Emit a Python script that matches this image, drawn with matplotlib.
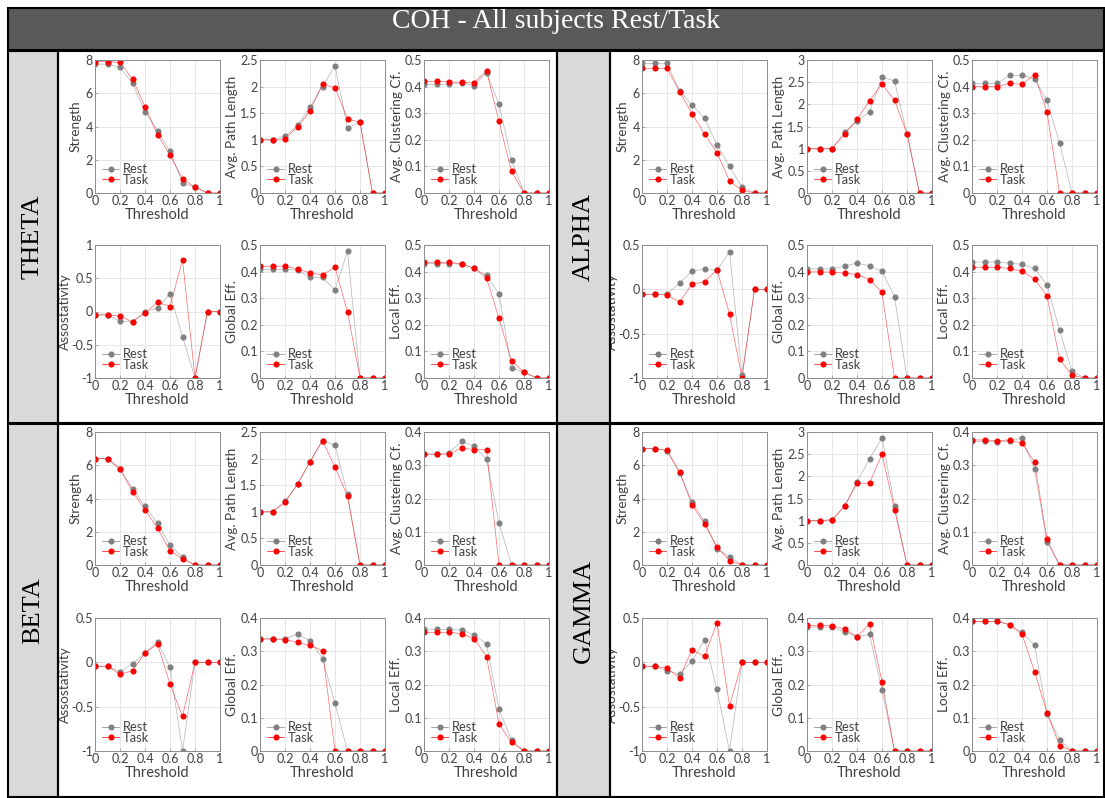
import numpy as np
import matplotlib
matplotlib.use("Agg")
import matplotlib.pyplot as plt
from matplotlib.patches import Rectangle
from matplotlib.ticker import FuncFormatter, MultipleLocator

plt.rcParams['font.family'] = ['Lato', 'DejaVu Sans']
plt.rcParams['axes.unicode_minus'] = False

threshold = [0, 0.1, 0.2, 0.3, 0.4, 0.5, 0.6, 0.7, 0.8, 0.9, 1.0]
metric_labels = ['Strength', 'Avg. Path Length', 'Avg. Clustering Cf.',
                 'Assostativity', 'Global Eff.', 'Local Eff.']
band_names = ['THETA', 'ALPHA', 'BETA', 'GAMMA']

# THETA
theta_strength_rest = [7.75, 7.75, 7.55, 6.6, 4.9, 3.75, 2.5, 0.6, 0.35, 0, 0]
theta_strength_task = [7.9, 7.9, 7.85, 6.85, 5.2, 3.5, 2.3, 0.85, 0.35, 0, 0]
theta_apl_rest = [1, 1, 1.07, 1.27, 1.62, 2.0, 2.39, 1.23, 1.33, 0, 0]
theta_apl_task = [1, 1, 1.02, 1.24, 1.54, 2.05, 1.98, 1.39, 1.33, 0, 0]
theta_clust_rest = [0.408, 0.408, 0.408, 0.415, 0.404, 0.453, 0.334, 0.125, 0, 0, 0]
theta_clust_task = [0.42, 0.42, 0.418, 0.416, 0.415, 0.459, 0.269, 0.081, 0, 0, 0]
theta_assort_rest = [-0.05, -0.05, -0.146, -0.156, 0.0, 0.05, 0.266, -0.377, -1.0, 0, 0]
theta_assort_task = [-0.05, -0.05, -0.07, -0.156, -0.02, 0.14, 0.075, 0.78, -1.0, 0, 0]
theta_geff_rest = [0.409, 0.409, 0.409, 0.405, 0.379, 0.378, 0.331, 0.476, 0, 0, 0]
theta_geff_task = [0.42, 0.42, 0.42, 0.41, 0.395, 0.388, 0.416, 0.248, 0, 0, 0]
theta_leff_rest = [0.43, 0.43, 0.43, 0.428, 0.412, 0.386, 0.316, 0.038, 0.022, 0, 0]
theta_leff_task = [0.435, 0.435, 0.435, 0.429, 0.413, 0.376, 0.224, 0.064, 0.022, 0, 0]

# ALPHA
alpha_strength_rest = [7.8, 7.8, 7.8, 6.15, 5.3, 4.5, 2.9, 1.6, 0.35, 0, 0]
alpha_strength_task = [7.5, 7.5, 7.5, 6.1, 4.78, 3.55, 2.42, 0.72, 0.16, 0, 0]
alpha_apl_rest = [1, 1, 1, 1.37, 1.62, 1.83, 2.61, 2.53, 1.34, 0, 0]
alpha_apl_task = [1, 1, 1, 1.32, 1.66, 2.08, 2.46, 2.09, 1.34, 0, 0]
alpha_clust_rest = [0.412, 0.412, 0.412, 0.442, 0.442, 0.43, 0.348, 0.188, 0, 0, 0]
alpha_clust_task = [0.4, 0.4, 0.4, 0.412, 0.408, 0.445, 0.305, 0, 0, 0, 0]
alpha_assort_rest = [-0.056, -0.056, -0.056, 0.071, 0.205, 0.228, 0.214, 0.424, -0.97, 0, 0]
alpha_assort_task = [-0.056, -0.056, -0.064, -0.142, 0.06, 0.083, 0.221, -0.277, -1.0, 0, 0]
alpha_geff_rest = [0.41, 0.41, 0.41, 0.421, 0.432, 0.421, 0.401, 0.306, 0, 0, 0]
alpha_geff_task = [0.399, 0.399, 0.398, 0.394, 0.389, 0.37, 0.322, 0, 0, 0, 0]
alpha_leff_rest = [0.436, 0.436, 0.436, 0.432, 0.427, 0.412, 0.35, 0.18, 0.025, 0, 0]
alpha_leff_task = [0.416, 0.416, 0.416, 0.412, 0.402, 0.372, 0.308, 0.071, 0.011, 0, 0]

# BETA
beta_strength_rest = [6.4, 6.4, 5.78, 4.6, 3.52, 2.5, 1.2, 0.46, 0, 0, 0]
beta_strength_task = [6.4, 6.4, 5.78, 4.42, 3.3, 2.22, 0.84, 0.36, 0, 0, 0]
beta_apl_rest = [1, 1, 1.2, 1.52, 1.94, 2.34, 2.25, 1.33, 0, 0, 0]
beta_apl_task = [1, 1, 1.175, 1.52, 1.94, 2.34, 1.84, 1.29, 0, 0, 0]
beta_clust_rest = [0.334, 0.334, 0.338, 0.372, 0.357, 0.319, 0.127, 0, 0, 0, 0]
beta_clust_task = [0.333, 0.333, 0.333, 0.352, 0.347, 0.347, 0, 0, 0, 0, 0]
beta_assort_rest = [-0.045, -0.045, -0.106, -0.015, 0.106, 0.23, -0.057, -1.0, 0, 0, 0]
beta_assort_task = [-0.045, -0.045, -0.136, -0.094, 0.106, 0.207, -0.245, -0.61, 0, 0, 0]
beta_geff_rest = [0.337, 0.337, 0.337, 0.352, 0.331, 0.278, 0.143, 0, 0, 0, 0]
beta_geff_task = [0.337, 0.337, 0.335, 0.327, 0.318, 0.302, 0, 0, 0, 0, 0]
beta_leff_rest = [0.366, 0.366, 0.366, 0.364, 0.35, 0.322, 0.127, 0.033, 0, 0, 0]
beta_leff_task = [0.357, 0.357, 0.357, 0.353, 0.338, 0.284, 0.081, 0.026, 0, 0, 0]

# GAMMA
gamma_strength_rest = [7.0, 7.0, 6.88, 5.54, 3.8, 2.62, 0.98, 0.5, 0, 0, 0]
gamma_strength_task = [7.0, 7.0, 6.9, 5.62, 3.62, 2.48, 1.08, 0.26, 0, 0, 0]
gamma_apl_rest = [1, 1, 1.02, 1.33, 1.875, 2.39, 2.87, 1.34, 0, 0, 0]
gamma_apl_task = [1, 1, 1.02, 1.32, 1.845, 1.845, 2.5, 1.25, 0, 0, 0]
gamma_clust_rest = [0.372, 0.372, 0.37, 0.373, 0.382, 0.288, 0.068, 0, 0, 0, 0]
gamma_clust_task = [0.376, 0.376, 0.374, 0.376, 0.366, 0.31, 0.077, 0, 0, 0, 0]
gamma_assort_rest = [-0.045, -0.045, -0.094, -0.132, 0.011, 0.253, -0.306, -1.0, 0, 0, 0]
gamma_assort_task = [-0.045, -0.045, -0.064, -0.177, 0.143, 0.068, 0.445, -0.49, 0, 0, 0]
gamma_geff_rest = [0.373, 0.373, 0.372, 0.358, 0.344, 0.351, 0.184, 0, 0, 0, 0]
gamma_geff_task = [0.378, 0.378, 0.377, 0.367, 0.344, 0.382, 0.208, 0, 0, 0, 0]
gamma_leff_rest = [0.39, 0.39, 0.39, 0.38, 0.357, 0.318, 0.112, 0.034, 0, 0, 0]
gamma_leff_task = [0.39, 0.39, 0.39, 0.38, 0.351, 0.239, 0.115, 0.016, 0, 0, 0]

# y limits per band, in metric order
theta_ylims = [(0, 8), (0, 2.5), (0, 0.5), (-1, 1), (0, 0.5), (0, 0.5)]
alpha_ylims = [(0, 8), (0, 3), (0, 0.5), (-1, 0.5), (0, 0.5), (0, 0.5)]
beta_ylims = [(0, 8), (0, 2.5), (0, 0.4), (-1, 0.5), (0, 0.4), (0, 0.4)]
gamma_ylims = [(0, 8), (0, 3), (0, 0.4), (-1, 0.5), (0, 0.4), (0, 0.4)]
ystep = [2, 0.5, 0.1, 0.5, 0.1, 0.1]
# distance (px) from the axis to the y label, per metric
ylabel_gap = [13, 22, 21, 24, 22, 22]

bands = {
    'THETA': ([theta_strength_rest, theta_apl_rest, theta_clust_rest,
               theta_assort_rest, theta_geff_rest, theta_leff_rest],
              [theta_strength_task, theta_apl_task, theta_clust_task,
               theta_assort_task, theta_geff_task, theta_leff_task], theta_ylims),
    'ALPHA': ([alpha_strength_rest, alpha_apl_rest, alpha_clust_rest,
               alpha_assort_rest, alpha_geff_rest, alpha_leff_rest],
              [alpha_strength_task, alpha_apl_task, alpha_clust_task,
               alpha_assort_task, alpha_geff_task, alpha_leff_task], alpha_ylims),
    'BETA': ([beta_strength_rest, beta_apl_rest, beta_clust_rest,
              beta_assort_rest, beta_geff_rest, beta_leff_rest],
             [beta_strength_task, beta_apl_task, beta_clust_task,
              beta_assort_task, beta_geff_task, beta_leff_task], beta_ylims),
    'GAMMA': ([gamma_strength_rest, gamma_apl_rest, gamma_clust_rest,
               gamma_assort_rest, gamma_geff_rest, gamma_leff_rest],
              [gamma_strength_task, gamma_apl_task, gamma_clust_task,
               gamma_assort_task, gamma_geff_task, gamma_leff_task], gamma_ylims),
}

W, H = 1105, 798
fig = plt.figure(figsize=(W / 100, H / 100), dpi=100)
fig.patch.set_facecolor('white')


def box(x0, y0, x1, y1, z=5, **kw):
    # rectangle in pixel coords, y measured from the top
    r = Rectangle((x0 / W, 1 - y1 / H), (x1 - x0) / W, (y1 - y0) / H,
                  transform=fig.transFigure, zorder=z, **kw)
    fig.add_artist(r)


col_left = {'THETA': [95, 260, 424], 'ALPHA': [642, 807, 972],
            'BETA': [95, 260, 424], 'GAMMA': [642, 807, 972]}
row_tops = {'THETA': [60, 245], 'ALPHA': [60, 245],
            'BETA': [432, 618], 'GAMMA': [432, 618]}
aw, ah = 125, 133

fmt = FuncFormatter(lambda v, p: '{:g}'.format(round(v, 6)))

for name in band_names:
    rest, task, ylims = bands[name]
    for k in range(6):
        left = col_left[name][k % 3]
        top = row_tops[name][k // 3]
        ax = fig.add_axes([left / W, 1 - (top + ah) / H, aw / W, ah / H])
        ax.plot(threshold, rest[k], '-', color='#808080', lw=0.5, alpha=0.6)
        ax.plot(threshold, task[k], '-', color='red', lw=0.5, alpha=0.6)
        ax.plot(threshold, rest[k], 'o', color='#808080', ms=4.4,
                markeredgewidth=0)
        ax.plot(threshold, task[k], 'o', color='red', ms=4.4,
                markeredgewidth=0)
        ax.set_xlim(0, 1)
        ax.set_ylim(*ylims[k])
        ax.xaxis.set_major_locator(MultipleLocator(0.2))
        ax.yaxis.set_major_locator(MultipleLocator(ystep[k]))
        ax.xaxis.set_major_formatter(fmt)
        ax.yaxis.set_major_formatter(fmt)
        ax.grid(True, color='#e6e6e6', lw=0.7)
        ax.set_axisbelow(True)
        for s in ax.spines.values():
            s.set_color('#8c8c8c')
            s.set_linewidth(0.7)
        ax.tick_params(direction='in', length=2, width=0.5, colors='#8c8c8c',
                       labelcolor='#404040', labelsize=9, pad=1.5)
        ax.set_xlabel('Threshold', fontsize=10.5, color='#404040', labelpad=1)
        ax.set_ylabel(metric_labels[k], fontsize=9.8, color='#404040')
        ax.yaxis.set_label_coords(-ylabel_gap[k] / aw, 0.5)
        h_rest = plt.Line2D([], [], color='#808080', lw=0.5, marker='o', ms=4.4,
                            markeredgewidth=0)
        h_task = plt.Line2D([], [], color='red', lw=0.5, marker='o', ms=4.4,
                            markeredgewidth=0)
        ax.legend([h_rest, h_task], ['Rest', 'Task'], loc='lower left',
                  bbox_to_anchor=(0.0, 0.0), frameon=False,
                  fontsize=9.3, handlelength=1.3, handletextpad=0.3,
                  labelspacing=-0.1, borderaxespad=0.15, labelcolor='#404040')

# table frame
box(8, 8, 1104, 50, facecolor='#595959', edgecolor='black', lw=1.5)
fig.text(556 / W, 1 - 21 / H, 'COH - All subjects Rest/Task', color='white',
         fontsize=20, ha='center', va='center', family='Liberation Serif',
         zorder=6)
label_cells = {'THETA': (8, 51, 58, 423), 'ALPHA': (557, 51, 610, 423),
               'BETA': (8, 424, 58, 797), 'GAMMA': (557, 424, 610, 797)}
for name, (x0, y0, x1, y1) in label_cells.items():
    box(x0, y0, x1, y1, facecolor='#d9d9d9', edgecolor='black', lw=1.5)
    fig.text((x0 + x1) / 2 / W, 1 - (y0 + y1) / 2 / H, name, rotation=90,
             fontsize=19, ha='center', va='center', family='Liberation Serif',
             zorder=6)
box(58, 51, 557, 423, facecolor='none', edgecolor='black', lw=1.5)
box(610, 51, 1104, 423, facecolor='none', edgecolor='black', lw=1.5)
box(58, 424, 557, 797, facecolor='none', edgecolor='black', lw=1.5)
box(610, 424, 1104, 797, facecolor='none', edgecolor='black', lw=1.5)

fig.savefig('out.png', dpi=100)
